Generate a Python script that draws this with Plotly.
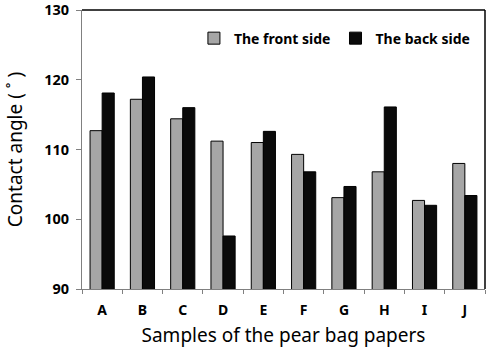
import plotly.graph_objects as go

samples = ["A", "B", "C", "D", "E", "F", "G", "H", "I", "J"]
front_side = [112.7, 117.2, 114.4, 111.2, 111.0, 109.3, 103.1, 106.8, 102.7, 108.0]
back_side = [118.1, 120.4, 116.0, 97.6, 112.6, 106.8, 104.7, 116.1, 102.0, 103.4]
y_ticks = [90, 100, 110, 120, 130]

font_family = "Noto Sans, Open Sans, DejaVu Sans, sans-serif"

fig = go.Figure()
fig.add_trace(go.Bar(
    x=samples, y=front_side, name="The front side",
    marker=dict(color="#a6a6a6", line=dict(color="black", width=1)),
))
fig.add_trace(go.Bar(
    x=samples, y=back_side, name="The back side",
    marker=dict(color="#0a0a0a", line=dict(color="black", width=1)),
))

fig.update_layout(
    width=487, height=348,
    margin=dict(l=82, r=2, t=10, b=59),
    paper_bgcolor="white", plot_bgcolor="white",
    barmode="group", bargap=0.4, bargroupgap=0,
    font=dict(family=font_family, color="black"),
    legend=dict(
        orientation="h", x=0.975, xanchor="right", y=0.955, yanchor="top",
        font=dict(size=14, family=font_family, weight="bold"),
        bgcolor="rgba(0,0,0,0)", itemwidth=30, tracegroupgap=0,
    ),
    xaxis=dict(
        type="category", tickson="boundaries", ticks="outside", ticklen=4,
        tickcolor="#808080", showline=True, linecolor="#808080", linewidth=1,
        tickfont=dict(size=14, weight="bold"), ticklabelstandoff=8,
        title=dict(text="Samples of the pear bag papers", font=dict(size=19), standoff=10),
        showgrid=False, automargin=False,
    ),
    yaxis=dict(
        range=[90, 130], tickvals=y_ticks, ticks="outside", ticklen=5,
        tickcolor="#808080", showline=True, linecolor="#808080", linewidth=1,
        tickfont=dict(size=14.5, weight="bold"), ticklabelstandoff=4,
        ticklabeloverflow="allow",
        title=dict(text="Contact angle ( ˚ )", font=dict(size=19), standoff=16),
        showgrid=False, zeroline=False, automargin=False,
    ),
    shapes=[
        dict(type="line", xref="paper", yref="paper", x0=0, x1=1, y0=1, y1=1,
             line=dict(color="black", width=1.5)),
        dict(type="line", xref="paper", yref="paper", x0=1, x1=1, y0=0, y1=1,
             line=dict(color="black", width=1.5)),
    ],
)

fig.write_html("out.html")
